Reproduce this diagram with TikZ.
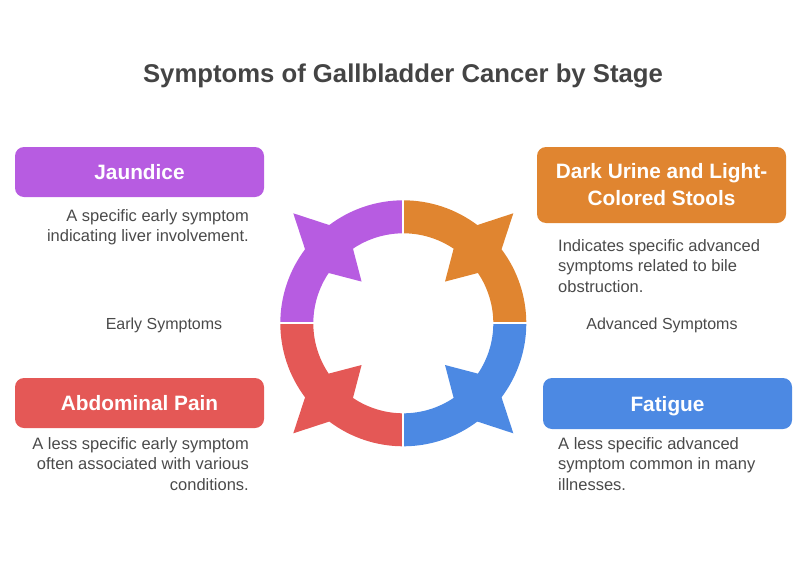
\documentclass[tikz,border=0pt]{standalone}
\usepackage{fontspec}
\setmainfont{Liberation Sans}
\definecolor{cpurple}{HTML}{B75CE1}
\definecolor{corange}{HTML}{E08530}
\definecolor{cred}{HTML}{E45856}
\definecolor{cblue}{HTML}{4C89E3}
\definecolor{ctitle}{HTML}{444444}
\definecolor{ctext}{HTML}{4A4A4A}
\newcommand\ringseg[2]{%
  \fill[#2] (#1:123) arc[start angle=#1, end angle=#1+37, radius=123]
    -- (#1+45:155.6) -- (#1+53:123)
    arc[start angle=#1+53, end angle=#1+90, radius=123]
    -- (#1+90:90) arc[start angle=#1+90, end angle=#1+56, radius=90]
    -- (#1+45:59) -- (#1+34:90)
    arc[start angle=#1+34, end angle=#1, radius=90] -- cycle;}
\tikzset{
  box/.style={rounded corners=9pt, inner sep=0pt, text=white,
    font=\fontsize{20.8}{27}\selectfont\bfseries, align=center,
    minimum width=249pt},
  desc/.style={inner sep=0pt, text=ctext, font=\fontsize{16.5}{20.5}\selectfont},
  stage/.style={inner sep=0pt, text=ctext, font=\fontsize{16}{19}\selectfont},
}
\begin{document}
\begin{tikzpicture}[x=1pt,y=-1pt]
\useasboundingbox (0,0) rectangle (808,570);
\node[inner sep=0pt, text=ctitle, font=\fontsize{25.7}{30}\selectfont\bfseries] (title) at (403,75.5) {Symptoms of Gallbladder Cancer by Stage};
% ring
\begin{scope}[shift={(403.3,323.3)}, x=1pt, y=1pt]
  \ringseg{0}{corange}
  \ringseg{90}{cpurple}
  \ringseg{180}{cred}
  \ringseg{270}{cblue}
  \draw[white, line width=2pt] (0:88) -- (0:126) (90:88) -- (90:126)
    (180:88) -- (180:126) (270:88) -- (270:126);
\end{scope}
% boxes
\node[box, fill=cpurple, minimum height=50pt] (jaundice) at (139.5,172) {Jaundice};
\node[box, fill=cred, minimum height=50pt] (abdominal) at (139.5,403) {Abdominal Pain};
\node[box, fill=corange, minimum height=76pt] (urine) at (661.5,185) {Dark Urine and Light-\\Colored Stools};
\node[box, fill=cblue, minimum height=51pt, text depth=0pt] (fatigue) at (667.5,403.5) {Fatigue};
% descriptions
\node[desc, anchor=north east, align=right] (jdesc) at (249,209) {A specific early symptom\\indicating liver involvement.};
\node[desc, anchor=north east, align=right] (adesc) at (249,437) {A less specific early symptom\\often associated with various\\conditions.};
\node[desc, anchor=north west, align=left] (udesc) at (558,239) {Indicates specific advanced\\symptoms related to bile\\obstruction.};
\node[desc, anchor=north west, align=left] (fdesc) at (558,437) {A less specific advanced\\symptom common in many\\illnesses.};
% stage labels
\node[stage] (early) at (164,325) {Early Symptoms};
\node[stage] (advanced) at (662,325) {Advanced Symptoms};
\end{tikzpicture}
\end{document}
